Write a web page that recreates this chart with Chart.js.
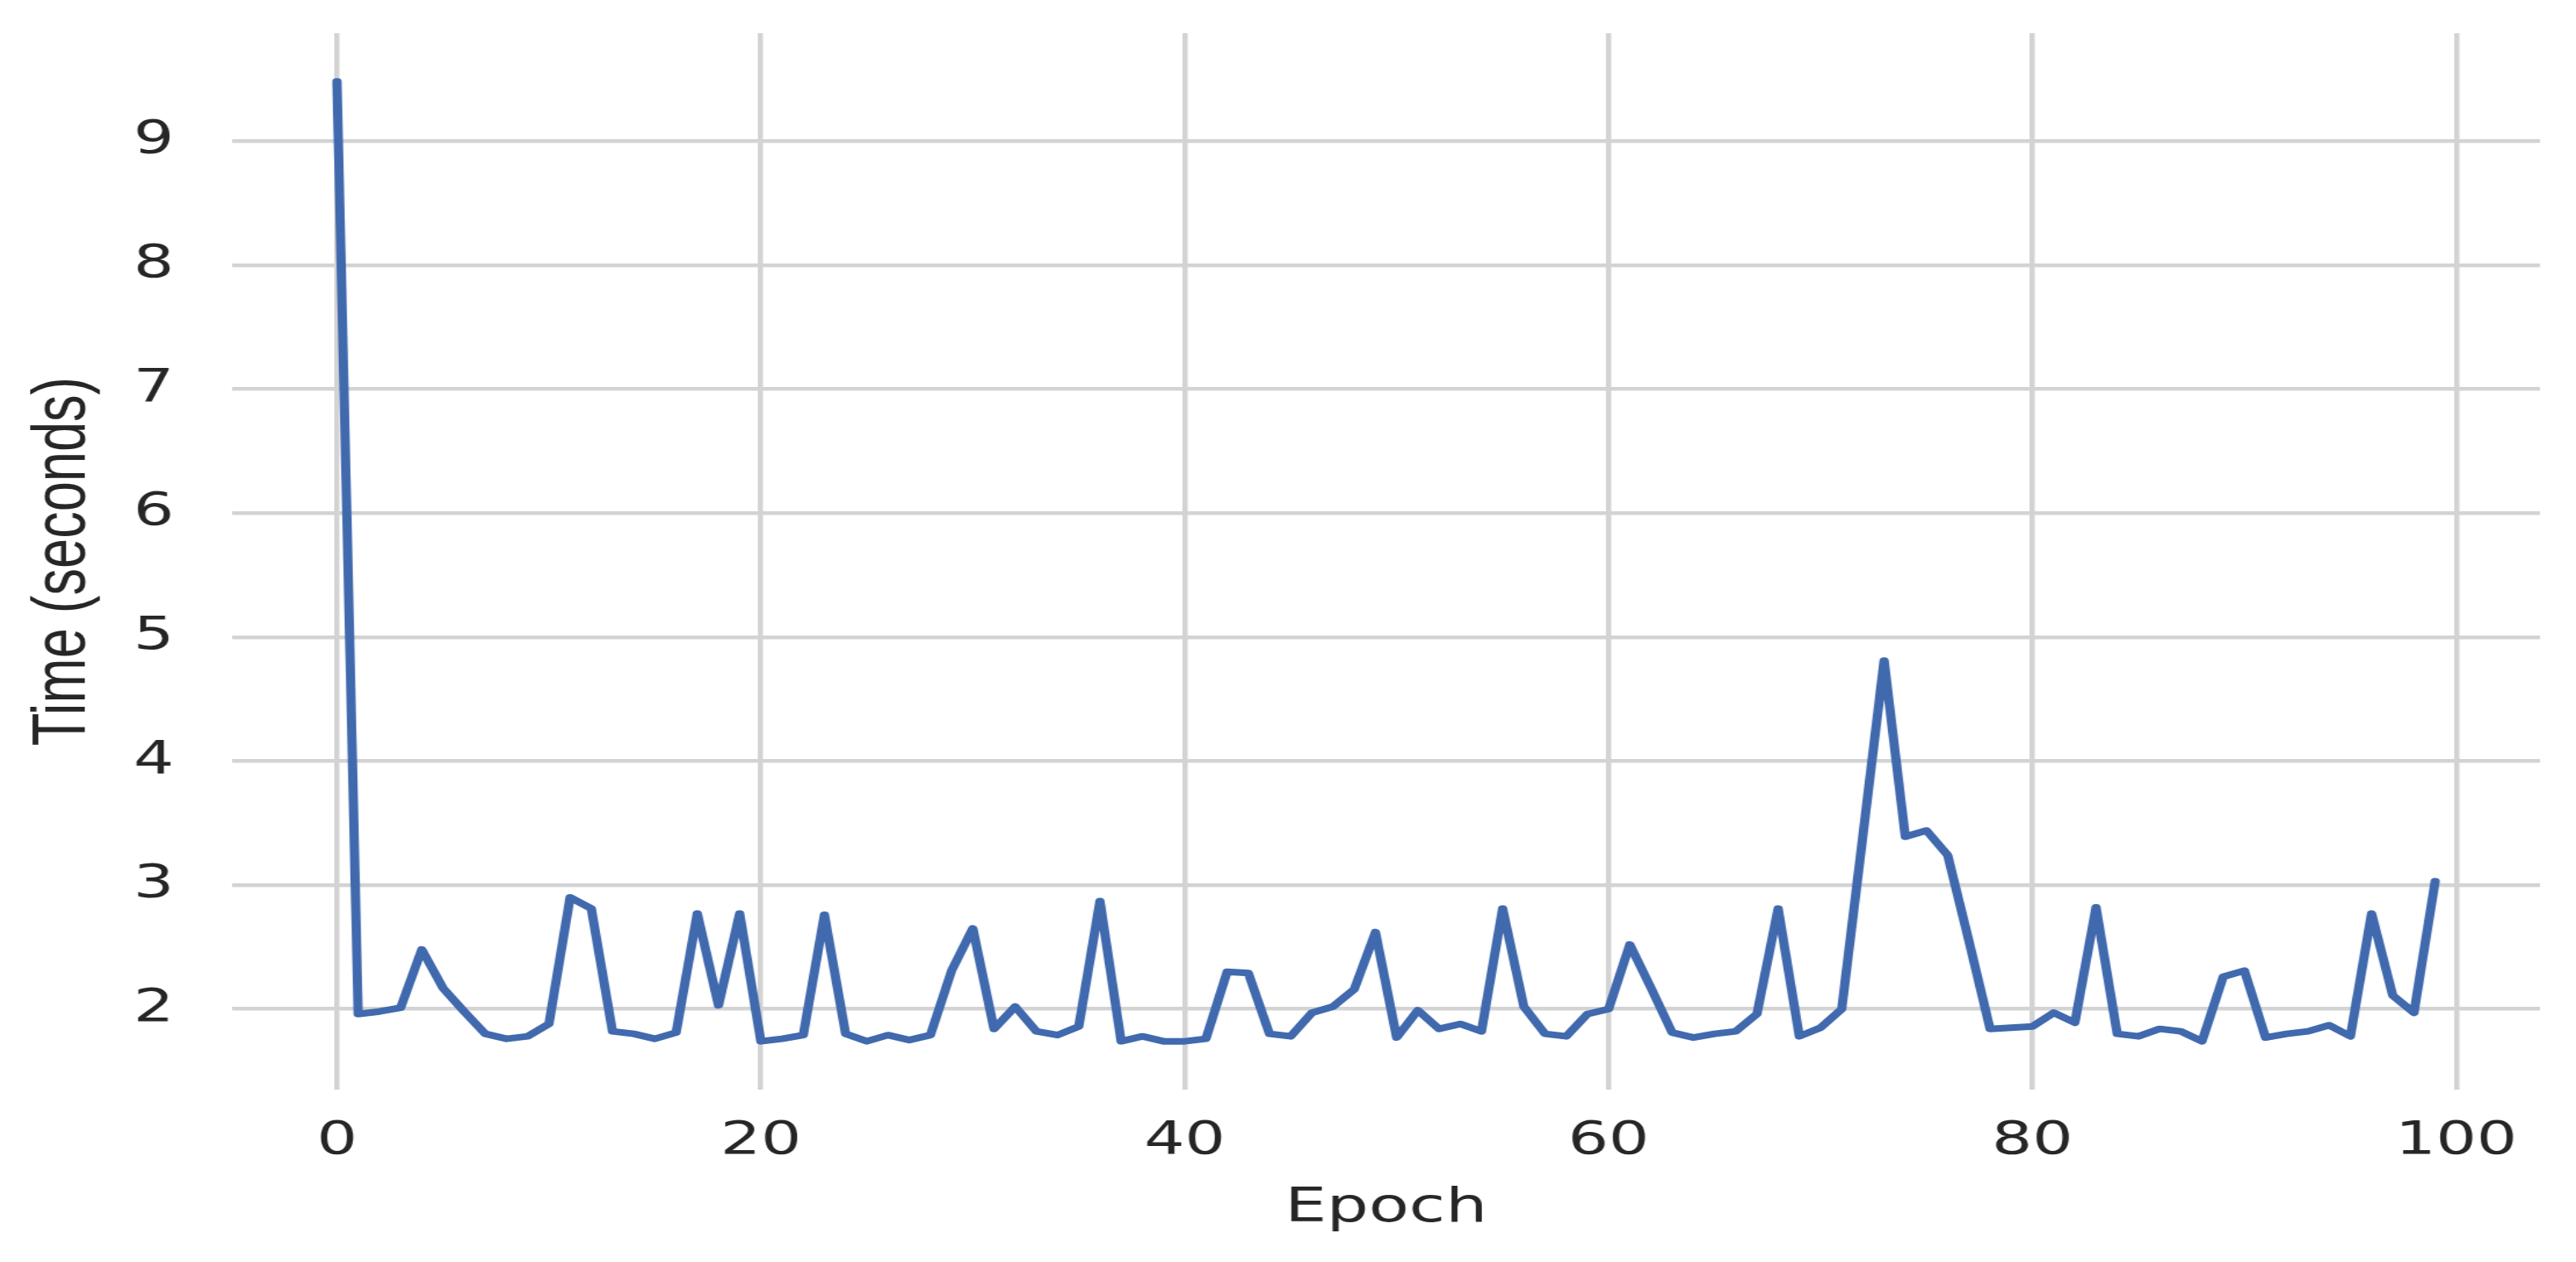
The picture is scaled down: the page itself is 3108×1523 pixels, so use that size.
<!DOCTYPE html>
<html>
<head>
<meta charset="utf-8">
<script src="https://cdn.jsdelivr.net/npm/chart.js@4.4.0/dist/chart.umd.min.js"></script>
<style>
  html, body { margin: 0; background: #fff; overflow: hidden; }
  /* the source picture is stretched sideways, so the chart is drawn narrow and widened */
  #wrap { position: absolute; left: 0; top: 0; width: 2220px; height: 1523px; transform: scaleX(1.4); transform-origin: 0 0; }
</style>
</head>
<body>
<div id="wrap"><canvas id="epochChart"></canvas></div>
<script>
// --- data ---
const epochs = [
  0, 1, 2, 3, 4, 5, 6, 7, 8, 9, 10, 11, 12, 13, 14, 15, 16, 17, 18, 19,
  20, 21, 22, 23, 24, 25, 26, 27, 28, 29, 30, 31, 32, 33, 34, 35, 36, 37, 38, 39,
  40, 41, 42, 43, 44, 45, 46, 47, 48, 49, 50, 51, 52, 53, 54, 55, 56, 57, 58, 59,
  60, 61, 62, 63, 64, 65, 66, 67, 68, 69, 70, 71, 72, 73, 74, 75, 76, 77, 78, 79,
  80, 81, 82, 83, 84, 85, 86, 87, 88, 89, 90, 91, 92, 93, 94, 95, 96, 97, 98, 99
];
const times = [
  9.48, 1.96, 1.98, 2.01, 2.48, 2.17, 1.98, 1.80, 1.76, 1.78,
  1.88, 2.90, 2.81, 1.82, 1.80, 1.76, 1.81, 2.77, 2.03, 2.77,
  1.74, 1.76, 1.79, 2.76, 1.80, 1.74, 1.79, 1.75, 1.79, 2.31,
  2.65, 1.84, 2.02, 1.82, 1.79, 1.86, 2.87, 1.74, 1.78, 1.74,
  1.74, 1.76, 2.30, 2.29, 1.80, 1.78, 1.97, 2.02, 2.16, 2.62,
  1.77, 1.99, 1.84, 1.88, 1.82, 2.81, 2.02, 1.80, 1.78, 1.96,
  2.00, 2.52, 2.17, 1.81, 1.77, 1.80, 1.82, 1.96, 2.81, 1.78,
  1.85, 2.00, 3.40, 4.81, 3.39, 3.44, 3.24, 2.55, 1.84, 1.85,
  1.86, 1.97, 1.89, 2.82, 1.80, 1.78, 1.84, 1.82, 1.74, 2.26,
  2.31, 1.77, 1.80, 1.82, 1.87, 1.78, 2.77, 2.11, 1.97, 3.03
];
const xTicks = [0, 20, 40, 60, 80, 100];
const yTicks = [2, 3, 4, 5, 6, 7, 8, 9];
const xLimits = [-4.95, 103.95];
const yLimits = [1.35, 9.87];

const gridColor = '#d3d3d3';
const textColor = '#262626';
const lineColor = '#4069ae';

const ctx = document.getElementById('epochChart').getContext('2d');

const epochChart = new Chart(ctx, {
  type: 'line',
  data: {
    datasets: [{
      label: 'Time',
      data: epochs.map((e, i) => ({ x: e, y: times[i] })),
      borderColor: lineColor,
      borderWidth: 8,
      borderJoinStyle: 'round',
      borderCapStyle: 'round',
      pointRadius: 0,
      tension: 0,
      fill: false
    }]
  },
  options: {
    responsive: true,
    maintainAspectRatio: false,
    animation: false,
    layout: { padding: { top: 40, right: 31, bottom: 0, left: 0 } },
    plugins: {
      legend: { display: false },
      tooltip: { enabled: false }
    },
    scales: {
      x: {
        type: 'linear',
        min: xLimits[0],
        max: xLimits[1],
        afterBuildTicks: s => { s.ticks = xTicks.map(v => ({ value: v })); },
        afterFit: s => { s.height = 208; s.paddingLeft = 0; s.paddingRight = 0; },
        grid: { color: gridColor, lineWidth: 4.5, drawTicks: false },
        border: { display: false },
        ticks: {
          padding: 30,
          color: textColor,
          font: { family: 'DejaVu Sans', size: 55 },
          maxRotation: 0
        },
        title: {
          display: true,
          text: 'Epoch',
          color: textColor,
          font: { family: 'DejaVu Sans', size: 57 },
          padding: { top: 0, bottom: 30 }
        }
      },
      y: {
        min: yLimits[0],
        max: yLimits[1],
        afterBuildTicks: s => { s.ticks = yTicks.map(v => ({ value: v })); },
        // keep the plot area edges where the reference puts them
        afterFit: s => { s.width = 200; s.paddingTop = 0; s.paddingBottom = 0; },
        grid: { color: gridColor, lineWidth: 4.5, drawTicks: false },
        border: { display: false },
        ticks: {
          padding: 50,
          color: textColor,
          font: { family: 'DejaVu Sans', size: 55 }
        },
        title: {
          display: true,
          text: 'Time (seconds)',
          color: textColor,
          font: { family: "'Liberation Sans Narrow', 'Liberation Sans', sans-serif", size: 65 },
          padding: { top: 16, bottom: 0 }
        }
      }
    }
  }
});
</script>
</body>
</html>
